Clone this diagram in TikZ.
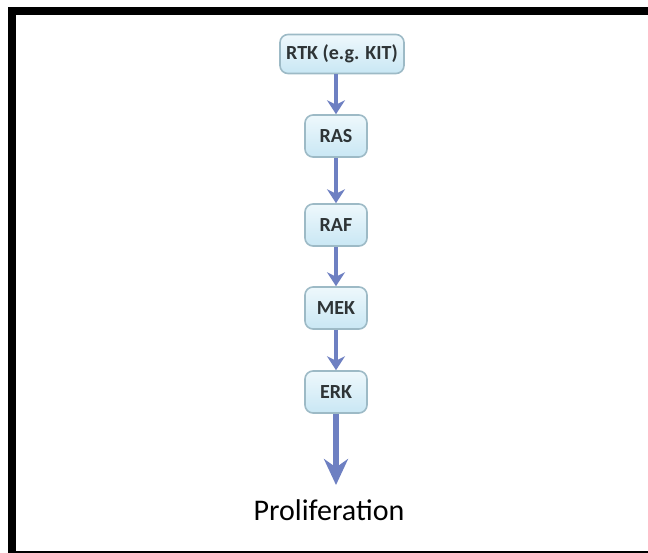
\documentclass[tikz,border=0pt]{standalone}
\usepackage{fontspec}
\setmainfont{Carlito}
\usetikzlibrary{arrows.meta}
\definecolor{kinaseBorder}{HTML}{9DBAC6}
\definecolor{kinaseTop}{HTML}{EEF8FC}
\definecolor{kinaseBottom}{HTML}{C9E7F4}
\definecolor{signalBlue}{HTML}{6E80C2}
\definecolor{labelGray}{HTML}{2E3436}

\begin{document}
\begin{tikzpicture}[x=0.5pt, y=-0.5pt,
		kinase/.style={
			rounded corners=4pt, draw=kinaseBorder, line width=0.8pt,
			top color=kinaseTop, bottom color=kinaseBottom,
			font=\fontsize{10}{12}\selectfont\bfseries, text=labelGray,
			inner sep=0pt, minimum width=31pt, minimum height=21pt
		},
		signal/.style={-{Stealth[width=9pt, length=7pt]}, line width=2pt, signalBlue},
		bigsignal/.style={-{Stealth[width=12pt, length=13pt]}, line width=3pt, signalBlue}
		]
		
		\useasboundingbox (0,0) rectangle (648,552);
		\clip (0,0) rectangle (648,552);
		% frame, cut off on the right
		\draw[line width=4pt] (660,11) -- (12,11) -- (12,555) -- (660,555);
		
		\node[kinase, minimum width=62pt, minimum height=19.5pt] (rtk) at (342,54) {RTK (e.g. KIT)};
		\node[kinase] (ras) at (336,136) {RAS};
		\node[kinase] (raf) at (336,225) {RAF};
		\node[kinase] (mek) at (336,308) {MEK};
		\node[kinase] (erk) at (336,392) {ERK};
		\coordinate (tip) at (336,485);
		\node[font=\fontsize{15}{17}\selectfont] (prolif) at (329,510) {Proliferation};
		
		\draw[signal] (rtk.south -| ras) -- (ras.north);
		\draw[signal] (ras.south) -- (raf.north);
		\draw[signal] (raf.south) -- (mek.north);
		\draw[signal] (mek.south) -- (erk.north);
		\draw[bigsignal] (erk.south) -- (tip);
		
	\end{tikzpicture}
\end{document}
